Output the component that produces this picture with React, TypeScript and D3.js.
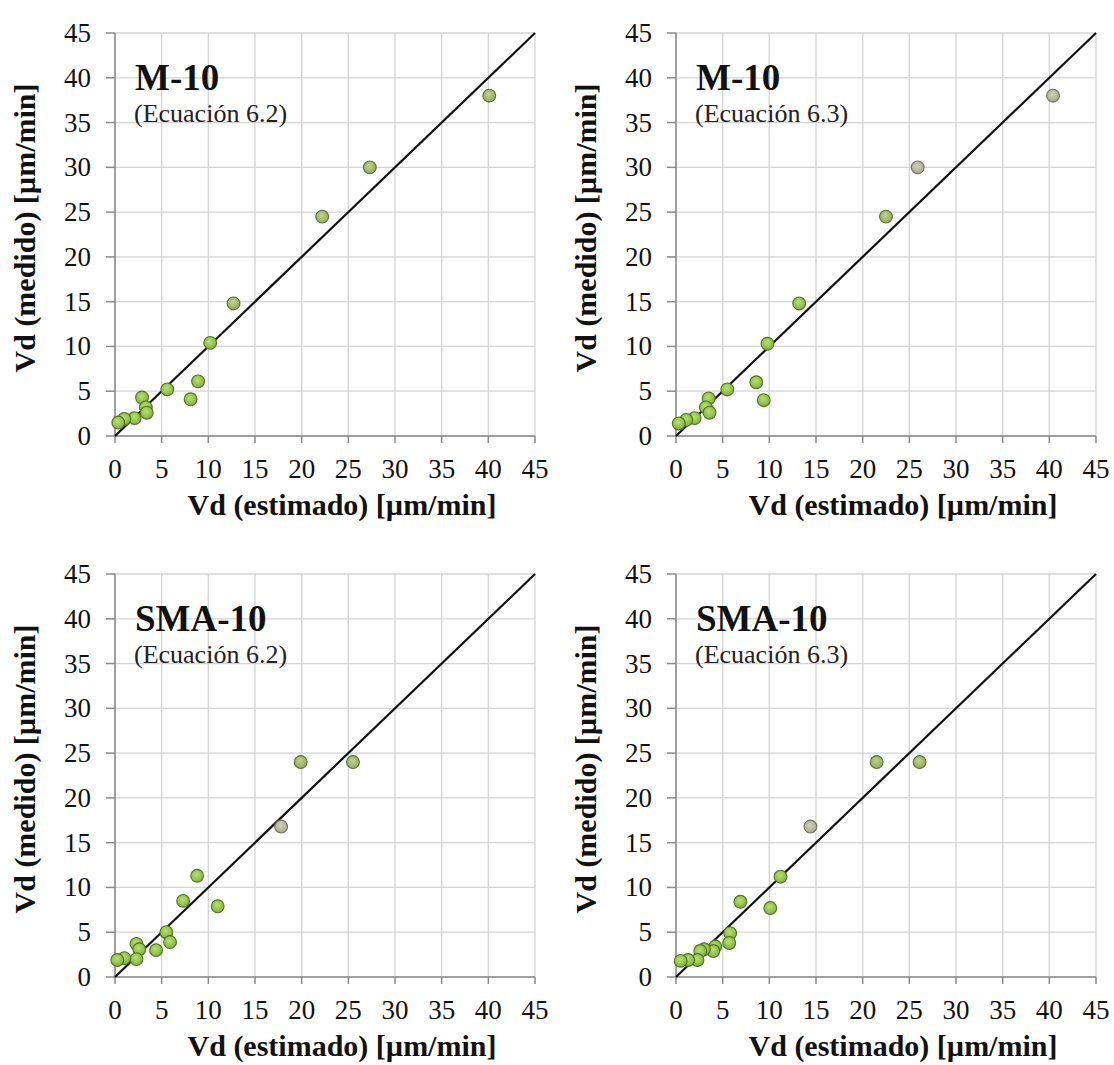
import React from "react";
import * as d3 from "d3";

// Measured vs. estimated deposition velocity, four samples/equations
const m10Eq62X = [40.1, 27.3, 22.2, 12.7, 10.2, 8.9, 8.1, 5.6, 2.9, 3.3, 3.4, 2.1, 1.0, 0.35];
const m10Eq62Y = [38.0, 30.0, 24.5, 14.8, 10.4, 6.1, 4.1, 5.2, 4.3, 3.2, 2.6, 2.0, 1.9, 1.5];

const m10Eq63X = [40.4, 25.9, 22.5, 13.2, 9.8, 8.6, 9.4, 5.5, 3.5, 3.2, 3.6, 2.0, 1.1, 0.3];
const m10Eq63Y = [38.0, 30.0, 24.5, 14.8, 10.3, 6.0, 4.0, 5.2, 4.2, 3.2, 2.6, 2.0, 1.8, 1.4];

const sma10Eq62X = [25.5, 19.9, 17.8, 11.0, 8.8, 7.3, 5.5, 5.9, 4.4, 2.3, 2.6, 2.3, 1.0, 0.25];
const sma10Eq62Y = [24.0, 24.0, 16.8, 7.9, 11.3, 8.5, 5.0, 3.9, 3.0, 3.7, 3.1, 2.0, 2.1, 1.9];

const sma10Eq63X = [26.1, 21.5, 14.4, 11.2, 6.9, 10.1, 5.8, 5.7, 4.2, 4.0, 3.0, 2.6, 2.3, 1.3, 0.5];
const sma10Eq63Y = [24.0, 24.0, 16.8, 11.2, 8.4, 7.7, 4.9, 3.8, 3.4, 2.9, 3.1, 2.9, 1.9, 1.9, 1.8];

const axisTicks = [0, 5, 10, 15, 20, 25, 30, 35, 40, 45];
const panelTitles = ["M-10", "M-10", "SMA-10", "SMA-10"];
const panelSubtitles = ["(Ecuación 6.2)", "(Ecuación 6.3)", "(Ecuación 6.2)", "(Ecuación 6.3)"];
const xAxisTitle = "Vd (estimado) [µm/min]";
const yAxisTitle = "Vd (medido) [µm/min]";

// Marker tones: which points are drawn in the duller olive / grey shade
const oliveIdx = [[0, 1, 2, 3], [2], [0, 1], [0, 1]];
const greyIdx = [[], [0, 1], [2], [2]];

const FONT = "'Liberation Serif', 'Times New Roman', serif";

const panels = [
  { xs: m10Eq62X, ys: m10Eq62Y, left: 115, top: 33 },
  { xs: m10Eq63X, ys: m10Eq63Y, left: 676, top: 33 },
  { xs: sma10Eq62X, ys: sma10Eq62Y, left: 115, top: 574 },
  { xs: sma10Eq63X, ys: sma10Eq63Y, left: 676, top: 574 },
];

const PW = 420;
const PH = 403;

function Panel({ i }: { i: number }) {
  const p = panels[i];
  const x = d3.scaleLinear().domain([0, 45]).range([p.left, p.left + PW]);
  const y = d3.scaleLinear().domain([0, 45]).range([p.top + PH, p.top]);
  const line = d3.line<number>().x((d) => x(d)).y((d) => y(d));
  const pts = p.xs.map((v, k) => ({ x: v, y: p.ys[k], k }));
  const fillFor = (k: number) =>
    greyIdx[i].includes(k) ? "url(#gGrey)" : oliveIdx[i].includes(k) ? "url(#gOlive)" : "url(#gGreen)";
  const strokeFor = (k: number) =>
    greyIdx[i].includes(k) ? "#6f715e" : oliveIdx[i].includes(k) ? "#5f6b3c" : "#4f7326";
  return (
    <g>
      {/* grid */}
      {axisTicks.map((t) => (
        <line key={"v" + t} x1={x(t)} x2={x(t)} y1={y(0)} y2={y(45)} stroke="#d4d4d4" strokeWidth={1.3} />
      ))}
      {axisTicks.map((t) => (
        <line key={"h" + t} x1={x(0)} x2={x(45)} y1={y(t)} y2={y(t)} stroke="#d4d4d4" strokeWidth={1.3} />
      ))}
      {/* axes */}
      <line x1={x(0)} x2={x(45)} y1={y(0)} y2={y(0)} stroke="#8a8a8a" strokeWidth={1.5} />
      <line x1={x(0)} x2={x(0)} y1={y(0)} y2={y(45)} stroke="#8a8a8a" strokeWidth={1.5} />
      {axisTicks.map((t) => (
        <line key={"tx" + t} x1={x(t)} x2={x(t)} y1={y(0)} y2={y(0) + 7} stroke="#8a8a8a" strokeWidth={1.5} />
      ))}
      {axisTicks.map((t) => (
        <line key={"ty" + t} x1={x(0) - 9} x2={x(0)} y1={y(t)} y2={y(t)} stroke="#8a8a8a" strokeWidth={1.5} />
      ))}
      {axisTicks.map((t) => (
        <text key={"lx" + t} x={x(t)} y={y(0) + 42} textAnchor="middle" fontFamily={FONT} fontSize={27} fill="#111">
          {t}
        </text>
      ))}
      {axisTicks.map((t) => (
        <text key={"ly" + t} x={x(0) - 24} y={y(t) + 9} textAnchor="end" fontFamily={FONT} fontSize={27} fill="#111">
          {t}
        </text>
      ))}
      {/* 1:1 line */}
      <path d={line([0, 45]) as string} stroke="#111" strokeWidth={2.2} fill="none" />
      {/* points */}
      {pts.map((d) => (
        <circle key={d.k} cx={x(d.x)} cy={y(d.y)} r={6.4} fill={fillFor(d.k)} stroke={strokeFor(d.k)} strokeWidth={1.1} />
      ))}
      {/* titles */}
      <text x={p.left + 20} y={p.top + 57} fontFamily={FONT} fontWeight="bold" fontSize={37} fill="#111">
        {panelTitles[i]}
      </text>
      <text x={p.left + 19} y={p.top + 89} fontFamily={FONT} fontSize={26} fill="#222">
        {panelSubtitles[i]}
      </text>
      <text x={p.left + 227} y={p.top + PH + 79} textAnchor="middle" fontFamily={FONT} fontWeight="bold" fontSize={30} fill="#111">
        {xAxisTitle}
      </text>
      <text
        transform={`translate(${p.left - 80},${p.top + 195}) rotate(-90)`}
        textAnchor="middle"
        fontFamily={FONT}
        fontWeight="bold"
        fontSize={30}
        fill="#111"
      >
        {yAxisTitle}
      </text>
    </g>
  );
}

export default function App() {
  return (
    <svg width={1114} height={1065} style={{ display: "block", position: "absolute", left: 0, top: 0, background: "#fff" }}>
      <defs>
        <radialGradient id="gGreen" cx="45%" cy="40%" r="60%">
          <stop offset="0%" stopColor="#b8e070" />
          <stop offset="100%" stopColor="#7fb23a" />
        </radialGradient>
        <radialGradient id="gOlive" cx="45%" cy="40%" r="60%">
          <stop offset="0%" stopColor="#c2d28a" />
          <stop offset="100%" stopColor="#93a85a" />
        </radialGradient>
        <radialGradient id="gGrey" cx="45%" cy="40%" r="60%">
          <stop offset="0%" stopColor="#d0d2b8" />
          <stop offset="100%" stopColor="#a4a88a" />
        </radialGradient>
      </defs>
      <rect width={1114} height={1065} fill="#fff" />
      {panels.map((_, i) => (
        <Panel key={i} i={i} />
      ))}
    </svg>
  );
}
